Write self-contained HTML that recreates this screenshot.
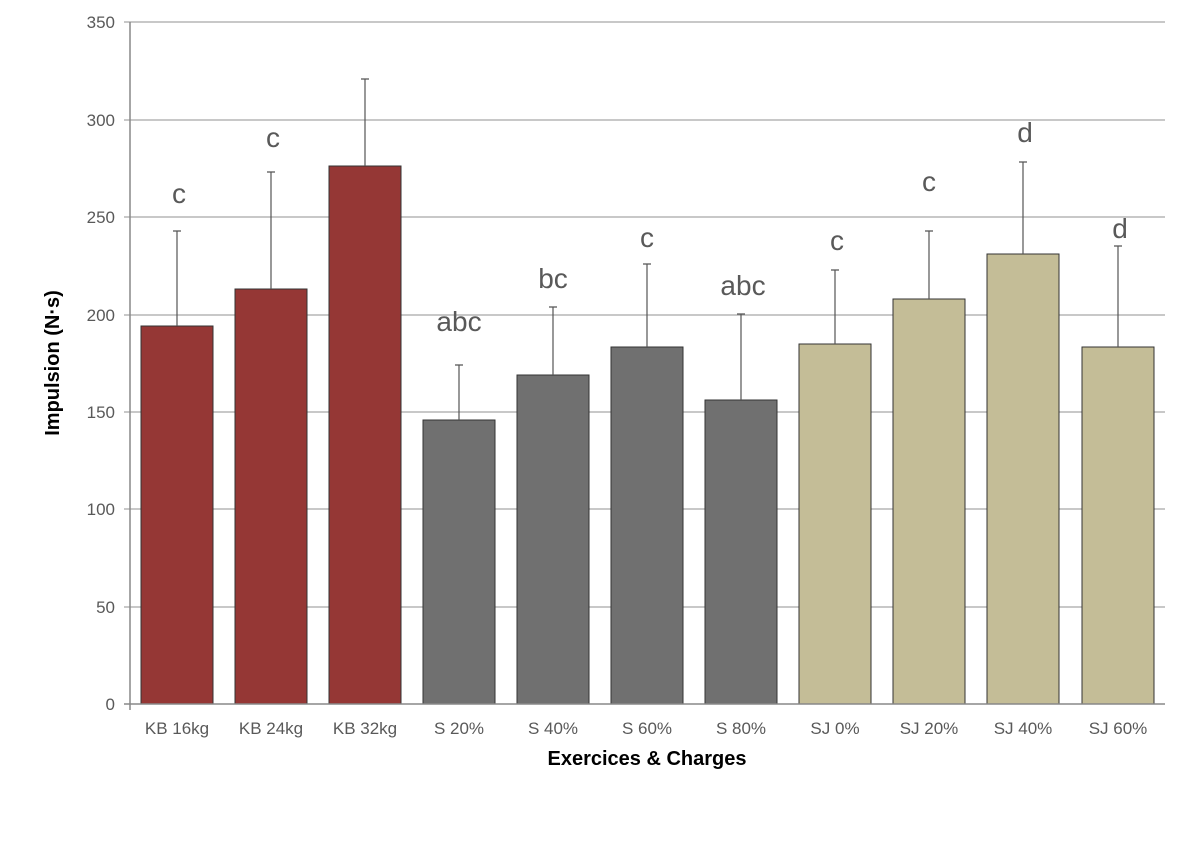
<!DOCTYPE html>
<html><head><meta charset="utf-8"><style>
body{margin:0;background:#fff;}
svg text{font-family:"Liberation Sans",sans-serif;}
</style></head><body>
<svg width="1200" height="857" xmlns="http://www.w3.org/2000/svg">
<g stroke="#a6a6a6" stroke-width="1.2">
<line x1="124" y1="22" x2="1165" y2="22"/>
<line x1="124" y1="120" x2="1165" y2="120"/>
<line x1="124" y1="217" x2="1165" y2="217"/>
<line x1="124" y1="315" x2="1165" y2="315"/>
<line x1="124" y1="412" x2="1165" y2="412"/>
<line x1="124" y1="509" x2="1165" y2="509"/>
<line x1="124" y1="607" x2="1165" y2="607"/>
</g>
<g fill="#595959" font-size="17" text-anchor="end">
<text x="115" y="28">350</text><text x="115" y="126">300</text><text x="115" y="223">250</text>
<text x="115" y="321">200</text><text x="115" y="418">150</text><text x="115" y="515">100</text>
<text x="115" y="613">50</text><text x="115" y="710">0</text>
</g>
<g stroke="#333" stroke-width="1">
<rect x="141" y="326" width="72" height="378" fill="#953735"/>
<rect x="235" y="289" width="72" height="415" fill="#953735"/>
<rect x="329" y="166" width="72" height="538" fill="#953735"/>
<rect x="423" y="420" width="72" height="284" fill="#707070"/>
<rect x="517" y="375" width="72" height="329" fill="#707070"/>
<rect x="611" y="347" width="72" height="357" fill="#707070"/>
<rect x="705" y="400" width="72" height="304" fill="#707070"/>
<rect x="799" y="344" width="72" height="360" fill="#c4bd97"/>
<rect x="893" y="299" width="72" height="405" fill="#c4bd97"/>
<rect x="987" y="254" width="72" height="450" fill="#c4bd97"/>
<rect x="1082" y="347" width="72" height="357" fill="#c4bd97"/>
</g>
<g stroke="#555" stroke-width="1.2">
<path d="M177 326V231M173 231h8"/>
<path d="M271 289V172M267 172h8"/>
<path d="M365 166V79M361 79h8"/>
<path d="M459 420V365M455 365h8"/>
<path d="M553 375V307M549 307h8"/>
<path d="M647 347V264M643 264h8"/>
<path d="M741 400V314M737 314h8"/>
<path d="M835 344V270M831 270h8"/>
<path d="M929 299V231M925 231h8"/>
<path d="M1023 254V162M1019 162h8"/>
<path d="M1118 347V246M1114 246h8"/>
</g>
<g stroke="#888" stroke-width="1.5">
<line x1="130" y1="22" x2="130" y2="710"/>
<line x1="124" y1="704" x2="1165" y2="704"/>
</g>
<g fill="#595959" font-size="28" text-anchor="middle">
<text x="179" y="203">c</text><text x="273" y="147">c</text>
<text x="459" y="331">abc</text><text x="553" y="288">bc</text>
<text x="647" y="247">c</text><text x="743" y="295">abc</text>
<text x="837" y="250">c</text><text x="929" y="191">c</text>
<text x="1025" y="142">d</text><text x="1120" y="238">d</text>
</g>
<g fill="#595959" font-size="17" text-anchor="middle">
<text x="177" y="734">KB 16kg</text><text x="271" y="734">KB 24kg</text><text x="365" y="734">KB 32kg</text>
<text x="459" y="734">S 20%</text><text x="553" y="734">S 40%</text><text x="647" y="734">S 60%</text>
<text x="741" y="734">S 80%</text><text x="835" y="734">SJ 0%</text><text x="929" y="734">SJ 20%</text>
<text x="1023" y="734">SJ 40%</text><text x="1118" y="734">SJ 60%</text>
</g>
<text x="647" y="765" font-size="20" font-weight="bold" text-anchor="middle" fill="#000">Exercices &amp; Charges</text>
<text transform="translate(59,363) rotate(-90)" font-size="20" font-weight="bold" text-anchor="middle" fill="#000">Impulsion (N·s)</text>
</svg>
</body></html>
